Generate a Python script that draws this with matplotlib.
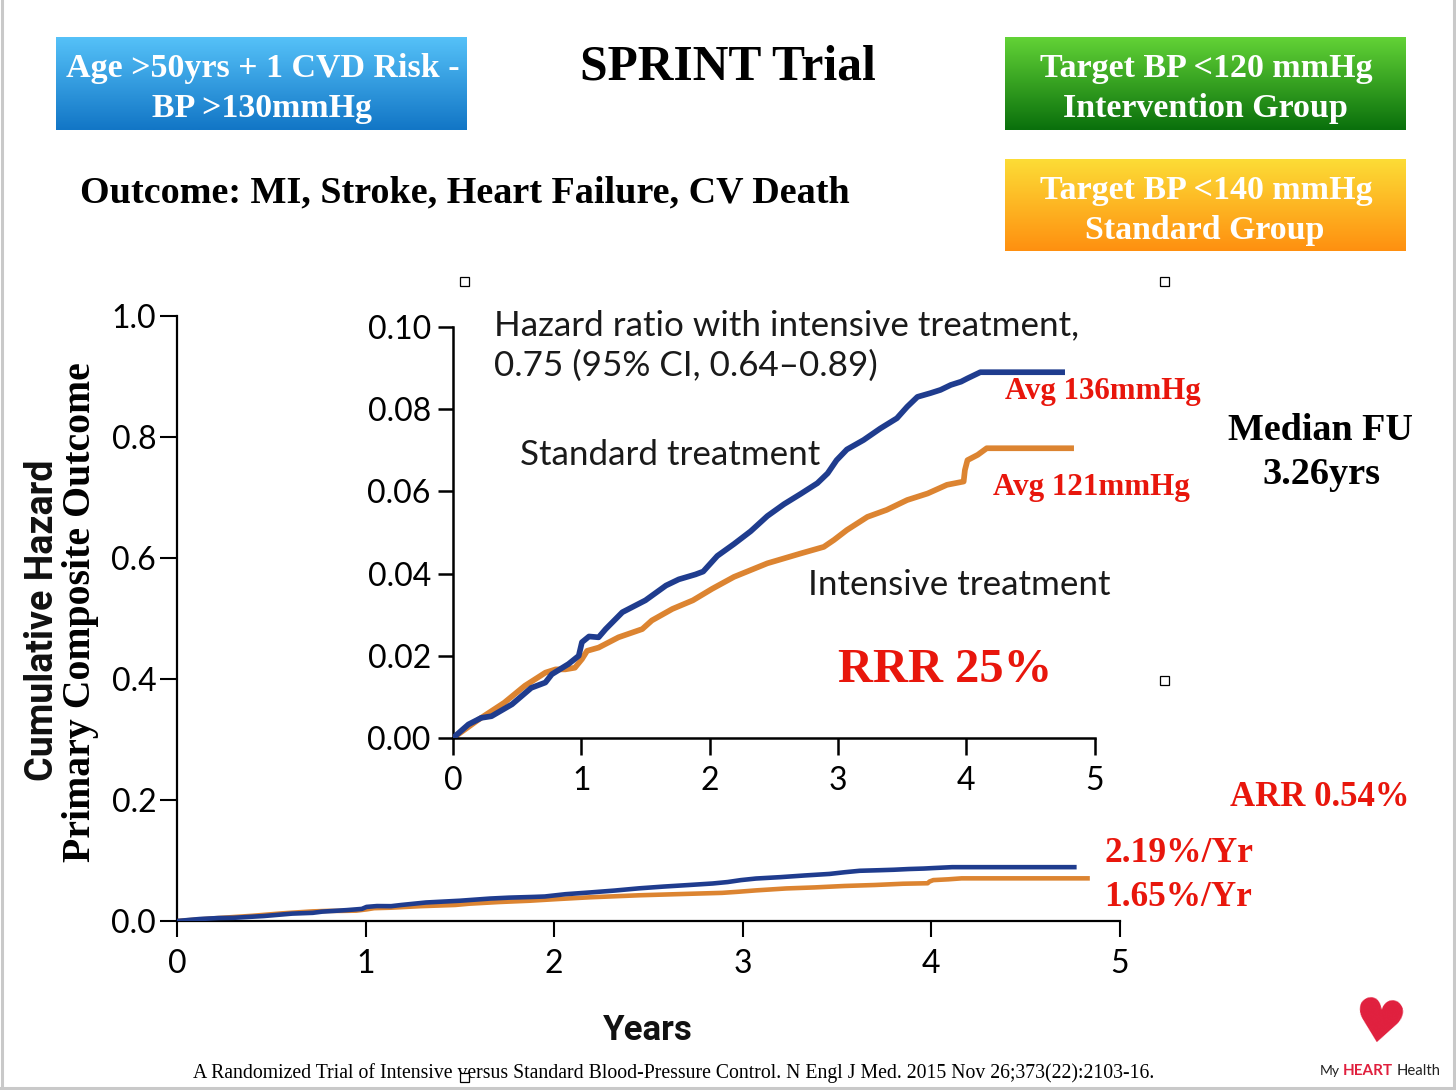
import numpy as np
import matplotlib
matplotlib.use("Agg")
import matplotlib.pyplot as plt
from matplotlib.patches import Rectangle

# ---------------- data ----------------
std_years = [0, 0.12, 0.22, 0.30, 0.46, 0.61, 0.72, 0.77, 0.90, 0.98, 1.005, 1.06, 1.135,
             1.19, 1.32, 1.50, 1.66, 1.76, 1.89, 1.95, 2.06, 2.19, 2.32, 2.45, 2.58, 2.71,
             2.84, 2.92, 2.99, 3.07, 3.20, 3.33, 3.46, 3.54, 3.62, 3.72, 3.80, 3.88, 3.96,
             4.01, 4.11, 4.77]
std_hazard = [0, 0.0033, 0.0049, 0.0053, 0.0082, 0.0122, 0.0135, 0.0155, 0.0180, 0.0200,
              0.0233, 0.0247, 0.0245, 0.0265, 0.0306, 0.0335, 0.0371, 0.0386, 0.0398, 0.0405,
              0.0443, 0.0472, 0.0503, 0.0540, 0.0569, 0.0594, 0.0620, 0.0644, 0.0676, 0.0702,
              0.0725, 0.0753, 0.0778, 0.0806, 0.0830, 0.0839, 0.0847, 0.0859, 0.0867, 0.0875,
              0.0890, 0.0890]
int_years = [0, 0.20, 0.40, 0.56, 0.72, 0.80, 0.875, 0.95, 1.005, 1.045, 1.135, 1.29, 1.475,
             1.55, 1.71, 1.87, 2.02, 2.19, 2.45, 2.71, 2.89, 2.97, 3.07, 3.23, 3.38, 3.54,
             3.70, 3.85, 3.98, 3.99, 4.01, 4.09, 4.16, 4.84]
int_hazard = [0, 0.0045, 0.0086, 0.0127, 0.0159, 0.0167, 0.0167, 0.0171, 0.0192, 0.0212,
              0.0220, 0.0245, 0.0265, 0.0286, 0.0314, 0.0335, 0.0363, 0.0392, 0.0425, 0.0449,
              0.0465, 0.0482, 0.0506, 0.0538, 0.0555, 0.0579, 0.0595, 0.0616, 0.0624, 0.0652,
              0.0676, 0.0689, 0.0705, 0.0705]

main_xticks = [0, 1, 2, 3, 4, 5]
main_yticks = [0.0, 0.2, 0.4, 0.6, 0.8, 1.0]
main_ytick_labels = ["0.0", "0.2", "0.4", "0.6", "0.8", "1.0"]
inset_xticks = [0, 1, 2, 3, 4, 5]
inset_yticks = [0.00, 0.02, 0.04, 0.06, 0.08, 0.10]
inset_ytick_labels = ["0.00", "0.02", "0.04", "0.06", "0.08", "0.10"]

title = "SPRINT Trial"
box_blue = ["Age >50yrs + 1 CVD Risk -", "BP >130mmHg"]
box_green = ["Target BP <120 mmHg", "Intervention Group"]
box_orange = ["Target BP <140 mmHg", "Standard Group"]
outcome = "Outcome: MI, Stroke, Heart Failure, CV Death"
hr_lines = ["Hazard ratio with intensive treatment,", "0.75 (95% CI, 0.64\u20130.89)"]
footer = ("A Randomized Trial of Intensive versus Standard Blood-Pressure Control. "
          "N Engl J Med. 2015 Nov 26;373(22):2103-16.")

# ---------------- styling ----------------
NAVY = "#1f3c8e"
ORANGE = "#dc8431"
RED = "#e8160c"
SERIF = "Liberation Serif"
SANS = "Lato"

W, H = 1456, 1090
fig = plt.figure(figsize=(W / 100, H / 100), dpi=100)
fig.patch.set_facecolor("white")

bg = fig.add_axes([0, 0, 1, 1])
bg.axis("off")


def grad_box(x0, y0, x1, y1, ctop, cbot):
    ct = np.array(matplotlib.colors.to_rgb(ctop))
    cb = np.array(matplotlib.colors.to_rgb(cbot))
    f = np.linspace(0, 1, 64)[:, None]
    arr = (ct * (1 - f) + cb * f)[:, None, :]
    bg.imshow(arr, extent=(x0, x1, y1, y0), aspect="auto", interpolation="bilinear",
              origin="upper", zorder=1)


grad_box(56, 37, 467, 130, "#55c1f8", "#1276c6")
grad_box(1005, 37, 1406, 130, "#62d236", "#0a700c")
grad_box(1005, 159, 1406, 251, "#fcdc36", "#ff9010")

bg.set_xlim(0, W)
bg.set_ylim(H, 0)

# page frame
bg.plot([1.5, 1.5], [0, H], color="#c9c9c9", lw=2.2, zorder=0)
bg.plot([W - 2, W - 2], [0, H], color="#c9c9c9", lw=2.2, zorder=0)
bg.plot([0, W], [H - 2, H - 2], color="#c9c9c9", lw=2.2, zorder=0)

# ---------------- main axes ----------------
ax = fig.add_axes([177 / W, 1 - 921 / H, (1120 - 177) / W, (921 - 316) / H])
ax.set_facecolor("none")
ax.plot(std_years, std_hazard, color=NAVY, lw=3.3, solid_capstyle="butt", zorder=3)
ax.plot(int_years, int_hazard, color=ORANGE, lw=3.3, solid_capstyle="butt", zorder=2)
ax.set_xlim(0, 5)
ax.set_ylim(0, 1)
ax.set_xticks(main_xticks)
ax.set_xticklabels([str(v) for v in main_xticks])
ax.set_yticks(main_yticks)
ax.set_yticklabels(main_ytick_labels)
for s in ["top", "right"]:
    ax.spines[s].set_visible(False)
for s in ["left", "bottom"]:
    ax.spines[s].set_linewidth(1.6)
ax.tick_params(axis="both", direction="out", width=1.5, colors="black")
ax.tick_params(axis="x", length=11.5, pad=9, labelsize=23)
ax.tick_params(axis="y", length=12, pad=3, labelsize=23)
for lab in ax.get_xticklabels() + ax.get_yticklabels():
    lab.set_fontfamily(SANS)

# ---------------- inset axes ----------------
ins = fig.add_axes([453 / W, 1 - 738 / H, (1094.5 - 453) / W, (738 - 327) / H])
ins.set_facecolor("none")
ins.plot(std_years, std_hazard, color=NAVY, lw=4.1, solid_capstyle="butt", zorder=3)
ins.plot(int_years, int_hazard, color=ORANGE, lw=4.1, solid_capstyle="butt", zorder=2)
ins.set_xlim(0, 5)
ins.set_ylim(0, 0.10)
ins.set_xticks(inset_xticks)
ins.set_xticklabels([str(v) for v in inset_xticks])
ins.set_yticks(inset_yticks)
ins.set_yticklabels(inset_ytick_labels)
for s in ["top", "right"]:
    ins.spines[s].set_visible(False)
for s in ["left", "bottom"]:
    ins.spines[s].set_linewidth(1.8)
ins.tick_params(axis="both", direction="out", width=1.8, colors="black", labelsize=23)
ins.tick_params(axis="x", length=12, pad=8)
ins.tick_params(axis="y", length=11, pad=5)
for lab in ins.get_xticklabels() + ins.get_yticklabels():
    lab.set_fontfamily(SANS)

# ---------------- overlay for texts ----------------
ov = fig.add_axes([0, 0, 1, 1])
ov.set_facecolor("none")
ov.axis("off")
ov.set_xlim(0, W)
ov.set_ylim(H, 0)

renderer = fig.canvas.get_renderer()


def fit_text(s, cx, cy, span, rotation=0, final_rotation=None, **kw):
    t = ov.text(cx, cy, s, ha="center", va="center", rotation=rotation,
                fontsize=20, zorder=10, **kw)
    for _ in range(2):
        bb = t.get_window_extent(renderer)
        meas = bb.height if rotation == 90 else bb.width
        t.set_fontsize(t.get_fontsize() * span / meas)
    if final_rotation is not None:
        t.set_rotation(final_rotation)
    return t


def fit_span(s, x0, x1, cy, **kw):
    return fit_text(s, (x0 + x1) / 2, cy, x1 - x0, **kw)


DY = 3  # vertical ink correction for serif text

# header
fit_span(title, 580, 876, 62 + 5, family=SERIF, weight="bold", color="black")
fit_span(box_blue[0], 65, 460, 65 + DY, family=SERIF, weight="bold", color="white")
fit_span(box_blue[1], 152, 372, 105 + DY, family=SERIF, weight="bold", color="white")
fit_span(box_green[0], 1040, 1372, 65 + DY, family=SERIF, weight="bold", color="white")
fit_span(box_green[1], 1063, 1348, 105 + DY, family=SERIF, weight="bold", color="white")
fit_span(box_orange[0], 1040, 1372, 187 + DY, family=SERIF, weight="bold", color="white")
fit_span(box_orange[1], 1085, 1325, 228 + DY, family=SERIF, weight="bold", color="white")
fit_span(outcome, 80, 850, 190 + DY, family=SERIF, weight="bold", color="black")

# inset annotations
t1 = fit_span(hr_lines[0], 494, 1080, 325, family=SANS, color="#1a1a1a")
fs_hr = t1.get_fontsize()
t1.set_ha("left"); t1.set_x(494)
ov.text(494, 366, hr_lines[1], ha="left", va="center", fontsize=fs_hr,
        family=SANS, color="#1a1a1a", zorder=10)
ov.text(520, 455, "Standard treatment", ha="left", va="center", fontsize=fs_hr,
        family=SANS, color="#1a1a1a", zorder=10)
ov.text(808, 585, "Intensive treatment", ha="left", va="center", fontsize=fs_hr,
        family=SANS, color="#1a1a1a", zorder=10)

# red annotations
fit_span("Avg 136mmHg", 1005, 1200, 389 + DY, family=SERIF, weight="bold", color=RED)
fit_span("Avg 121mmHg", 993, 1190, 485 + DY, family=SERIF, weight="bold", color=RED)
fit_span("RRR 25%", 838, 1052, 667 + DY, family=SERIF, weight="bold", color=RED)
fit_span("ARR 0.54%", 1230, 1410, 794 + DY, family=SERIF, weight="bold", color=RED)
fit_span("2.19%/Yr", 1104, 1253, 851 + DY, family=SERIF, weight="bold", color=RED)
fit_span("1.65%/Yr", 1104, 1252, 895 + DY, family=SERIF, weight="bold", color=RED)
fit_span("Median FU", 1228, 1413, 427 + DY, family=SERIF, weight="bold", color="black")
fit_span("3.26yrs", 1262, 1380, 471 + DY, family=SERIF, weight="bold", color="black")

# axis labels
fit_text("Cumulative Hazard", 43, 620, 322, rotation=90, family="Roboto",
         weight="bold", color="#111111")
fit_text("Primary Composite Outcome", 81, 612, 498, rotation=90, family=SERIF,
         weight="bold", color="black")
fit_span("Years", 603, 693, 1030, family="Roboto", weight="bold", color="#111111")

# footer
fit_span(footer, 192, 1155, 1073, family=SERIF, color="black")

# logo
fit_text("\u2665", 1379, 1026, 54, family="DejaVu Sans", color="#e01f3d",
         final_rotation=-8)
fit_span("My", 1320, 1340, 1071, family=SANS, color="#222222")
fit_span("HEART", 1343, 1393, 1071, family=SANS, weight="bold", color="#e01f3d")
fit_span("Health", 1397, 1441, 1071, family=SANS, color="#222222")

# selection handles
for (hx, hy) in [(464, 281), (1164, 281), (1164, 680), (464, 1077)]:
    ov.add_patch(Rectangle((hx - 4.5, hy - 4.5), 9, 9, facecolor="white",
                           edgecolor="black", lw=0.9, zorder=11))

fig.savefig("out.png", dpi=100)
